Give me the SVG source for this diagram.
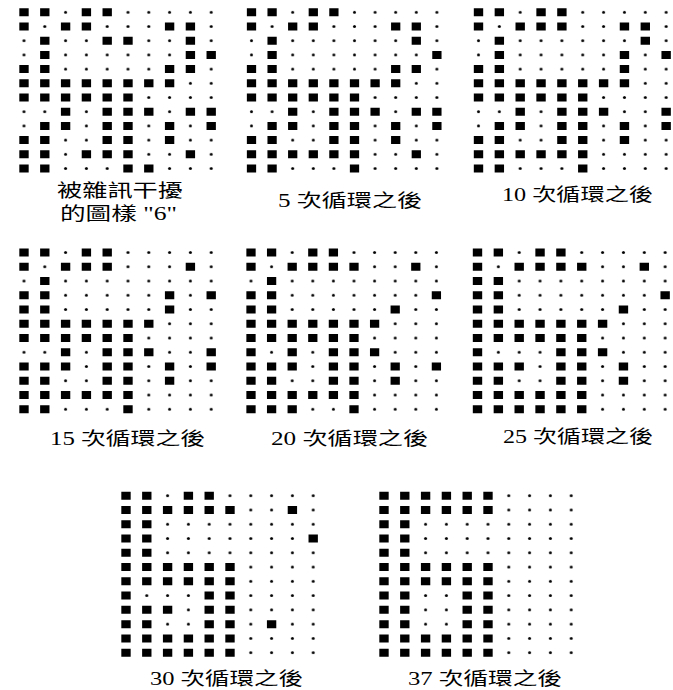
<svg xmlns="http://www.w3.org/2000/svg" width="673" height="690" viewBox="0 0 673 690">
<style>
.sq{fill:none;stroke:#000;stroke-width:.56}
.lbl{font-family:"Liberation Serif","Noto Sans CJK TC",serif;font-size:18px;fill:#000}
</style>
<defs>
<pattern id="dots" patternUnits="userSpaceOnUse" x="-.5" y="-.5" width="1" height="1">
<ellipse cx=".5" cy=".5" rx=".072" ry=".106" fill="#000"/>
</pattern>
</defs>
<rect width="673" height="690" fill="#fff"/>
<g id="panel1" transform="translate(24 12.3) scale(20.8 14.2)">
<rect x="-.5" y="-.5" width="10" height="12" fill="url(#dots)"/>
<g transform="translate(-.225 0)"><path class="sq" d="M0 0h.45M1 0h.45M3 0h.45M4 0h.45M0 1h.45M2 1h.45M3 1h.45M7 1h.45M8 1h.45M1 2h.45M4 2h.45M5 2h.45M8 2h.45M1 3h.45M8 3h.45M9 3h.45M0 4h.45M1 4h.45M7 4h.45M8 4h.45M0 5h.45M1 5h.45M2 5h.45M3 5h.45M4 5h.45M5 5h.45M6 5h.45M7 5h.45M0 6h.45M1 6h.45M2 6h.45M3 6h.45M4 6h.45M5 6h.45M2 7h.45M4 7h.45M5 7h.45M6 7h.45M8 7h.45M9 7h.45M1 8h.45M2 8h.45M4 8h.45M5 8h.45M7 8h.45M9 8h.45M0 9h.45M1 9h.45M4 9h.45M5 9h.45M7 9h.45M0 10h.45M1 10h.45M3 10h.45M4 10h.45M5 10h.45M8 10h.45M0 11h.45M1 11h.45M5 11h.45M6 11h.45"/></g>
</g>
<g id="panel2" transform="translate(251.5 12.3) scale(20.6 14.2)">
<rect x="-.5" y="-.5" width="10" height="12" fill="url(#dots)"/>
<g transform="translate(-.225 0)"><path class="sq" d="M0 0h.45M1 0h.45M3 0h.45M4 0h.45M0 1h.45M2 1h.45M3 1h.45M7 1h.45M8 1h.45M1 2h.45M8 2h.45M1 3h.45M9 3h.45M0 4h.45M1 4h.45M7 4h.45M8 4h.45M0 5h.45M1 5h.45M2 5h.45M3 5h.45M4 5h.45M5 5h.45M6 5h.45M7 5h.45M0 6h.45M1 6h.45M2 6h.45M3 6h.45M4 6h.45M5 6h.45M2 7h.45M4 7h.45M5 7h.45M6 7h.45M8 7h.45M9 7h.45M1 8h.45M2 8h.45M4 8h.45M5 8h.45M7 8h.45M9 8h.45M0 9h.45M1 9h.45M4 9h.45M5 9h.45M7 9h.45M0 10h.45M1 10h.45M2 10h.45M3 10h.45M4 10h.45M5 10h.45M8 10h.45M0 11h.45M1 11h.45M5 11h.45"/></g>
</g>
<g id="panel3" transform="translate(478.5 12.3) scale(20.85 14.2)">
<rect x="-.5" y="-.5" width="10" height="12" fill="url(#dots)"/>
<g transform="translate(-.225 0)"><path class="sq" d="M0 0h.45M1 0h.45M3 0h.45M4 0h.45M0 1h.45M2 1h.45M3 1h.45M4 1h.45M7 1h.45M8 1h.45M1 2h.45M8 2h.45M1 3h.45M7 3h.45M9 3h.45M0 4h.45M1 4h.45M7 4h.45M0 5h.45M1 5h.45M2 5h.45M3 5h.45M4 5h.45M5 5h.45M6 5h.45M7 5h.45M0 6h.45M1 6h.45M2 6h.45M3 6h.45M4 6h.45M5 6h.45M2 7h.45M4 7h.45M5 7h.45M6 7h.45M9 7h.45M1 8h.45M2 8h.45M4 8h.45M5 8h.45M7 8h.45M9 8h.45M0 9h.45M1 9h.45M4 9h.45M5 9h.45M7 9h.45M0 10h.45M1 10h.45M2 10h.45M3 10h.45M4 10h.45M5 10h.45M0 11h.45M1 11h.45M5 11h.45"/></g>
</g>
<g id="panel4" transform="translate(24 252.5) scale(20.8 14.25)">
<rect x="-.5" y="-.5" width="10" height="12" fill="url(#dots)"/>
<g transform="translate(-.225 0)"><path class="sq" d="M0 0h.45M1 0h.45M3 0h.45M4 0h.45M0 1h.45M2 1h.45M3 1h.45M4 1h.45M8 1h.45M1 2h.45M0 3h.45M1 3h.45M7 3h.45M9 3h.45M0 4h.45M1 4h.45M7 4h.45M0 5h.45M1 5h.45M2 5h.45M3 5h.45M4 5h.45M5 5h.45M6 5h.45M0 6h.45M1 6h.45M2 6h.45M3 6h.45M4 6h.45M5 6h.45M2 7h.45M4 7h.45M5 7h.45M6 7h.45M9 7h.45M0 8h.45M1 8h.45M2 8h.45M4 8h.45M5 8h.45M7 8h.45M9 8h.45M0 9h.45M1 9h.45M4 9h.45M5 9h.45M7 9h.45M0 10h.45M1 10h.45M2 10h.45M3 10h.45M4 10h.45M5 10h.45M0 11h.45M1 11h.45M5 11h.45"/></g>
</g>
<g id="panel5" transform="translate(251 252.5) scale(20.6 14.25)">
<rect x="-.5" y="-.5" width="10" height="12" fill="url(#dots)"/>
<g transform="translate(-.225 0)"><path class="sq" d="M0 0h.45M1 0h.45M3 0h.45M4 0h.45M0 1h.45M2 1h.45M3 1h.45M4 1h.45M5 1h.45M8 1h.45M1 2h.45M0 3h.45M1 3h.45M9 3h.45M0 4h.45M1 4h.45M7 4h.45M0 5h.45M1 5h.45M2 5h.45M3 5h.45M4 5h.45M5 5h.45M6 5h.45M0 6h.45M1 6h.45M2 6h.45M3 6h.45M4 6h.45M5 6h.45M0 7h.45M2 7h.45M4 7h.45M5 7h.45M6 7h.45M0 8h.45M1 8h.45M2 8h.45M4 8h.45M5 8h.45M7 8h.45M9 8h.45M0 9h.45M1 9h.45M4 9h.45M5 9h.45M7 9h.45M0 10h.45M1 10h.45M2 10h.45M3 10h.45M4 10h.45M5 10h.45M0 11h.45M1 11h.45M2 11h.45M5 11h.45"/></g>
</g>
<g id="panel6" transform="translate(477.5 252.5) scale(20.85 14.25)">
<rect x="-.5" y="-.5" width="10" height="12" fill="url(#dots)"/>
<g transform="translate(-.225 0)"><path class="sq" d="M0 0h.45M1 0h.45M3 0h.45M4 0h.45M0 1h.45M2 1h.45M3 1h.45M4 1h.45M5 1h.45M8 1h.45M0 2h.45M1 2h.45M0 3h.45M1 3h.45M9 3h.45M0 4h.45M1 4h.45M7 4h.45M0 5h.45M1 5h.45M2 5h.45M3 5h.45M4 5h.45M5 5h.45M6 5h.45M0 6h.45M1 6h.45M2 6h.45M3 6h.45M4 6h.45M5 6h.45M0 7h.45M4 7h.45M5 7h.45M6 7h.45M0 8h.45M1 8h.45M2 8h.45M4 8h.45M5 8h.45M7 8h.45M0 9h.45M1 9h.45M4 9h.45M5 9h.45M7 9h.45M0 10h.45M1 10h.45M2 10h.45M3 10h.45M4 10h.45M5 10h.45M0 11h.45M1 11h.45M2 11h.45M3 11h.45M4 11h.45M5 11h.45"/></g>
</g>
<g id="panel7" transform="translate(126 495.7) scale(20.8 14.27)">
<rect x="-.5" y="-.5" width="10" height="12" fill="url(#dots)"/>
<g transform="translate(-.225 0)"><path class="sq" d="M0 0h.45M1 0h.45M3 0h.45M4 0h.45M0 1h.45M1 1h.45M2 1h.45M3 1h.45M4 1h.45M5 1h.45M8 1h.45M0 2h.45M1 2h.45M0 3h.45M1 3h.45M9 3h.45M0 4h.45M1 4h.45M0 5h.45M1 5h.45M2 5h.45M3 5h.45M4 5h.45M5 5h.45M0 6h.45M1 6h.45M2 6h.45M3 6h.45M4 6h.45M5 6h.45M0 7h.45M4 7h.45M5 7h.45M0 8h.45M1 8h.45M2 8h.45M4 8h.45M5 8h.45M0 9h.45M1 9h.45M4 9h.45M5 9h.45M7 9h.45M0 10h.45M1 10h.45M2 10h.45M3 10h.45M4 10h.45M5 10h.45M0 11h.45M1 11h.45M2 11h.45M3 11h.45M4 11h.45M5 11h.45"/></g>
</g>
<g id="panel8" transform="translate(384 495.7) scale(20.8 14.27)">
<rect x="-.5" y="-.5" width="10" height="12" fill="url(#dots)"/>
<g transform="translate(-.225 0)"><path class="sq" d="M0 0h.45M1 0h.45M2 0h.45M3 0h.45M4 0h.45M5 0h.45M0 1h.45M1 1h.45M2 1h.45M3 1h.45M4 1h.45M5 1h.45M0 2h.45M1 2h.45M0 3h.45M1 3h.45M0 4h.45M1 4h.45M0 5h.45M1 5h.45M2 5h.45M3 5h.45M4 5h.45M5 5h.45M0 6h.45M1 6h.45M2 6h.45M3 6h.45M4 6h.45M5 6h.45M0 7h.45M1 7h.45M4 7h.45M5 7h.45M0 8h.45M1 8h.45M4 8h.45M5 8h.45M0 9h.45M1 9h.45M4 9h.45M5 9h.45M0 10h.45M1 10h.45M2 10h.45M3 10h.45M4 10h.45M5 10h.45M0 11h.45M1 11h.45M2 11h.45M3 11h.45M4 11h.45M5 11h.45"/></g>
</g>
<g id="labels">
<text class="lbl" x="57" y="196.5" textLength="126" lengthAdjust="spacingAndGlyphs">被雜訊干擾</text>
<text class="lbl" x="60" y="219.5" textLength="117" lengthAdjust="spacingAndGlyphs">的圖樣 "6"</text>
<text class="lbl" x="278" y="206.5" textLength="144" lengthAdjust="spacingAndGlyphs">5 次循環之後</text>
<text class="lbl" x="502" y="201" textLength="151" lengthAdjust="spacingAndGlyphs">10 次循環之後</text>
<text class="lbl" x="50" y="445" textLength="155" lengthAdjust="spacingAndGlyphs">15 次循環之後</text>
<text class="lbl" x="271" y="445" textLength="157" lengthAdjust="spacingAndGlyphs">20 次循環之後</text>
<text class="lbl" x="503" y="443" textLength="150" lengthAdjust="spacingAndGlyphs">25 次循環之後</text>
<text class="lbl" x="150" y="685" textLength="153" lengthAdjust="spacingAndGlyphs">30 次循環之後</text>
<text class="lbl" x="408" y="685" textLength="154" lengthAdjust="spacingAndGlyphs">37 次循環之後</text>
</g>
</svg>
